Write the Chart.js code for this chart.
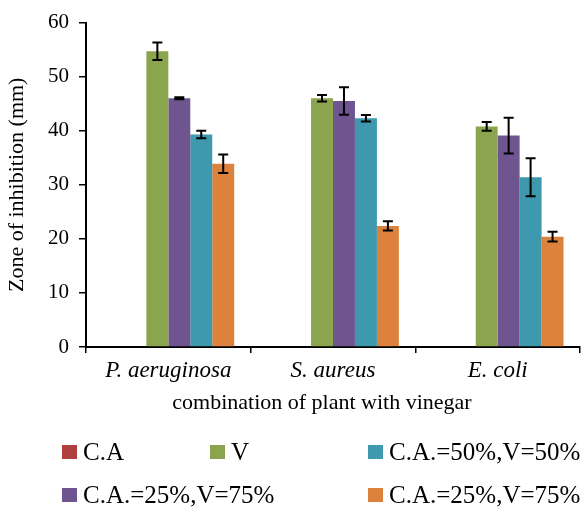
<!DOCTYPE html>
<html>
<head>
<meta charset="utf-8">
<script src="https://cdn.jsdelivr.net/npm/chart.js@4"></script>
<style>
  body { margin: 0; background: #fff; }
  #wrap { position: relative; width: 583px; height: 508px; }
  #legend { position: absolute; left: 0; top: 0; width: 583px; height: 508px; pointer-events: none;
            font-family: "Liberation Serif", "Times New Roman", serif; font-size: 25px; color: #000; }
  .item { position: absolute; display: flex; align-items: center; white-space: nowrap; }
  .box { width: 15px; height: 14px; margin-right: 6px; }
</style>
</head>
<body>
<div id="wrap">
  <canvas id="chart" width="583" height="508"></canvas>
  <div id="legend"></div>
</div>
<script>
// カテゴリ（菌種）
const categories = ['P. aeruginosa', 'S. aureus', 'E. coli'];

// 系列名と色
const seriesNames = ['', 'C.A', 'V', 'C.A.=25%,V=75%', 'C.A.=50%,V=50%', 'C.A.=25%,V=75%'];
const seriesColors = ['#ffffff', '#b0403f', '#8aa54d', '#6f5590', '#3f99ae', '#dc823d'];

// 値（mm）
const blankValues = [0, 0, 0];
const caValues = [0, 0, 0];
const vValues = [54.7, 46.0, 40.8];
const ca25Values = [46.0, 45.5, 39.1];
const ca50Values = [39.3, 42.3, 31.4];
const ca25bValues = [33.9, 22.4, 20.4];

// 誤差（±）
const blankErr = [0, 0, 0];
const caErr = [0, 0, 0];
const vErr = [1.6, 0.6, 0.8];
const ca25Err = [0.2, 2.55, 3.3];
const ca50Err = [0.7, 0.6, 3.5];
const ca25bErr = [1.7, 0.85, 0.9];

// y軸の目盛り
const yTicks = [0, 10, 20, 30, 40, 50, 60];

const yTitle = 'Zone of inhibition (mm)';
const xTitle = 'combination of plant with vinegar';

const allValues = [blankValues, caValues, vValues, ca25Values, ca50Values, ca25bValues];
const allErrors = [blankErr, caErr, vErr, ca25Err, ca50Err, ca25bErr];

const serif = '"Liberation Serif", "Times New Roman", serif';

// 誤差棒を描くプラグイン
const errorBars = {
    id: 'errorBars',
    afterDatasetsDraw(chart) {
        const ctx = chart.ctx;
        const y = chart.scales.y;
        ctx.save();
        ctx.strokeStyle = '#000';
        ctx.lineWidth = 2;
        chart.data.datasets.forEach((ds, i) => {
            const meta = chart.getDatasetMeta(i);
            meta.data.forEach((bar, j) => {
                const err = ds.errors[j];
                if (!err) return;
                const v = ds.data[j];
                const top = y.getPixelForValue(v + err);
                const bot = y.getPixelForValue(v - err);
                const half = 5;
                ctx.beginPath();
                ctx.moveTo(bar.x, top); ctx.lineTo(bar.x, bot);
                ctx.moveTo(bar.x - half, top); ctx.lineTo(bar.x + half, top);
                ctx.moveTo(bar.x - half, bot); ctx.lineTo(bar.x + half, bot);
                ctx.stroke();
            });
        });
        ctx.restore();
    }
};

// x軸タイトル（元図ではやや左寄り）
const xTitlePlugin = {
    id: 'xTitlePlugin',
    afterDraw(chart) {
        const ctx = chart.ctx;
        ctx.save();
        ctx.font = '22px ' + serif;
        ctx.fillStyle = '#000';
        ctx.textAlign = 'center';
        ctx.textBaseline = 'middle';
        ctx.fillText(xTitle, 322, 403);
        ctx.restore();
    }
};

new Chart(document.getElementById('chart'), {
    type: 'bar',
    data: {
        labels: categories,
        datasets: seriesNames.map((name, i) => ({
            label: name,
            data: allValues[i],
            errors: allErrors[i],
            backgroundColor: seriesColors[i],
            borderWidth: 0,
            categoryPercentage: 0.8,
            barPercentage: 1.0
        }))
    },
    options: {
        responsive: false,
        animation: false,
        layout: { padding: { left: 0, right: 3, top: 22, bottom: 91 } },
        plugins: {
            legend: { display: false },
            tooltip: { enabled: false }
        },
        scales: {
            x: {
                afterFit: s => { s.height = 70; },
                grid: { drawOnChartArea: false, drawTicks: true, tickLength: 6, color: '#000', lineWidth: 1.5 },
                border: { color: '#000', width: 2 },
                ticks: { color: '#000', padding: 4, font: { family: serif, size: 23, style: 'italic' } }
            },
            y: {
                min: 0,
                max: 60,
                afterFit: s => { s.width = 86; },
                afterBuildTicks: s => { s.ticks = yTicks.map(v => ({ value: v })); },
                grid: { drawOnChartArea: false, drawTicks: true, tickLength: 7, color: '#000', lineWidth: 1.5 },
                border: { color: '#000', width: 2 },
                ticks: { color: '#000', padding: 10, font: { family: serif, size: 21 } },
                title: { display: true, text: yTitle, color: '#000', padding: { top: 4, bottom: 0 },
                         font: { family: serif, size: 22 } }
            }
        }
    },
    plugins: [errorBars, xTitlePlugin]
});

// 凡例（Excel風の配置）
const legendItems = [
    { s: 1, left: 62, top: 452 },
    { s: 2, left: 210, top: 452 },
    { s: 4, left: 368, top: 452 },
    { s: 3, left: 62, top: 495 },
    { s: 5, left: 368, top: 495 }
];
const legend = document.getElementById('legend');
legendItems.forEach(it => {
    const el = document.createElement('div');
    el.className = 'item';
    el.style.left = it.left + 'px';
    el.style.top = (it.top - 15) + 'px';
    el.style.height = '30px';
    const box = document.createElement('span');
    box.className = 'box';
    box.style.backgroundColor = seriesColors[it.s];
    const txt = document.createElement('span');
    txt.textContent = seriesNames[it.s];
    el.appendChild(box);
    el.appendChild(txt);
    legend.appendChild(el);
});
</script>
</body>
</html>
